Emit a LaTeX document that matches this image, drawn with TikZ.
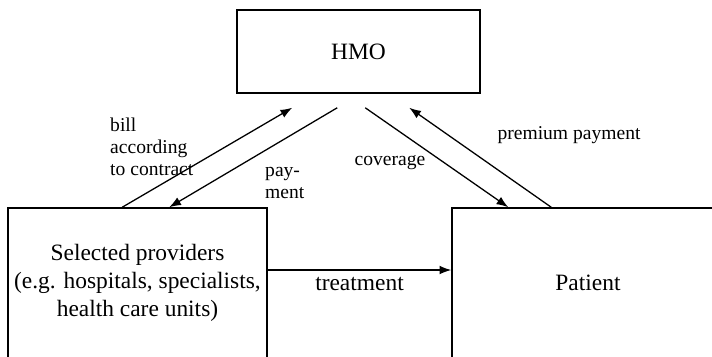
\documentclass[tikz,border=0pt]{standalone}
\usepackage{fontspec}
\setmainfont{Liberation Serif}
\usetikzlibrary{arrows.meta}

\begin{document}
\begin{tikzpicture}[x=0.03cm,y=-0.03cm,
  box/.style={draw, line width=1.3pt, inner sep=0pt, align=center, font=\fontsize{20}{24}\selectfont},
  flow/.style={line width=1.1pt, -{Latex[length=10pt,width=7.5pt]}},
  lbl/.style={inner sep=0pt, align=left, font=\fontsize{16.7}{18.7}\selectfont}]

\clip (0,0) rectangle (712,356);

\node[box, minimum width=7.29cm, minimum height=2.49cm] (hmo) at (358.5,51.5) {HMO};
\node[box, minimum width=7.77cm, minimum height=4.5cm] (prov) at (137.5,283) {Selected providers\\(e.g. hospitals, specialists,\\health care units)};
\node[box, minimum width=8.16cm, minimum height=4.5cm] (pat) at (588,283) {Patient};

\draw[flow] ([xshift=3.45cm]prov.north west) -- ([xshift=1.68cm,yshift=-0.42cm]hmo.south west);
\draw[flow] ([xshift=3.03cm,yshift=-0.42cm]hmo.south west) -- ([xshift=4.86cm]prov.north west);
\draw[flow] ([xshift=3.87cm,yshift=-0.42cm]hmo.south west) -- ([xshift=1.71cm]pat.north west);
\draw[flow] ([xshift=3.0cm]pat.north west) -- ([xshift=5.19cm,yshift=-0.42cm]hmo.south west);
\draw[flow] ([yshift=0.39cm]prov.east) -- node[lbl, below=0.2cm, font=\fontsize{20}{24}\selectfont] (treat) {treatment} ([yshift=0.39cm]pat.west);

\node[lbl, anchor=west] (bill) at (110,147) {bill\\according\\to contract};
\node[lbl, anchor=west] (pay) at (265,183) {pay-\\ment};
\node[lbl] (cov) at (390,163) {coverage};
\node[lbl] (prem) at (569,135) {premium payment};

\end{tikzpicture}
\end{document}
